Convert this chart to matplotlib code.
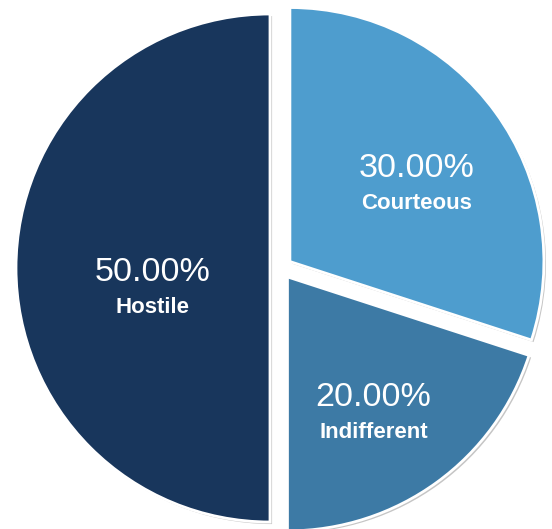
import numpy as np
import matplotlib
matplotlib.use("Agg")
import matplotlib.pyplot as plt
import matplotlib.patheffects as pe

# data
categories = ["Courteous", "Indifferent", "Hostile"]
shares = [30.0, 20.0, 50.0]
colors = ["#4e9dce", "#3d7aa5", "#18365c"]

# label placement (fraction of radius, angle tweak in degrees)
label_r = [0.58, 0.64, 0.47]
label_turn = [-5.0, -4.0, 10.6]

plt.rcParams["font.family"] = ["Liberation Sans", "DejaVu Sans"]

W, H = 552, 529
fig = plt.figure(figsize=(W / 100, H / 100), dpi=100)
ax = fig.add_axes([0, 0, 1, 1])

R = 254
cx, cy = 281, H - 268
wedges, _ = ax.pie(
    shares, colors=colors, startangle=90, counterclock=False,
    radius=R, center=(cx, cy), explode=[11, 11, 11],
    wedgeprops=dict(edgecolor="white", linewidth=2.0),
)
for w in wedges:
    w.set_path_effects([
        pe.SimplePatchShadow(offset=(1.5, -1.5), shadow_rgbFace="#808080", alpha=0.45),
        pe.Normal(),
    ])

for w, cat, val, rf, turn in zip(wedges, categories, shares, label_r, label_turn):
    ang = np.deg2rad((w.theta1 + w.theta2) / 2 + turn)
    x0, y0 = w.center
    lx = x0 + rf * R * np.cos(ang)
    ly = y0 + rf * R * np.sin(ang)
    ax.text(lx, ly + 17, f"{val:.2f}%", color="white", fontsize=24.5,
            ha="center", va="center")
    ax.text(lx, ly - 18, cat, color="white", fontsize=16,
            fontweight="bold", ha="center", va="center")

ax.set_xlim(0, W)
ax.set_ylim(0, H)
ax.set_aspect("equal")
ax.axis("off")

fig.savefig("out.png", dpi=100, facecolor="white")
